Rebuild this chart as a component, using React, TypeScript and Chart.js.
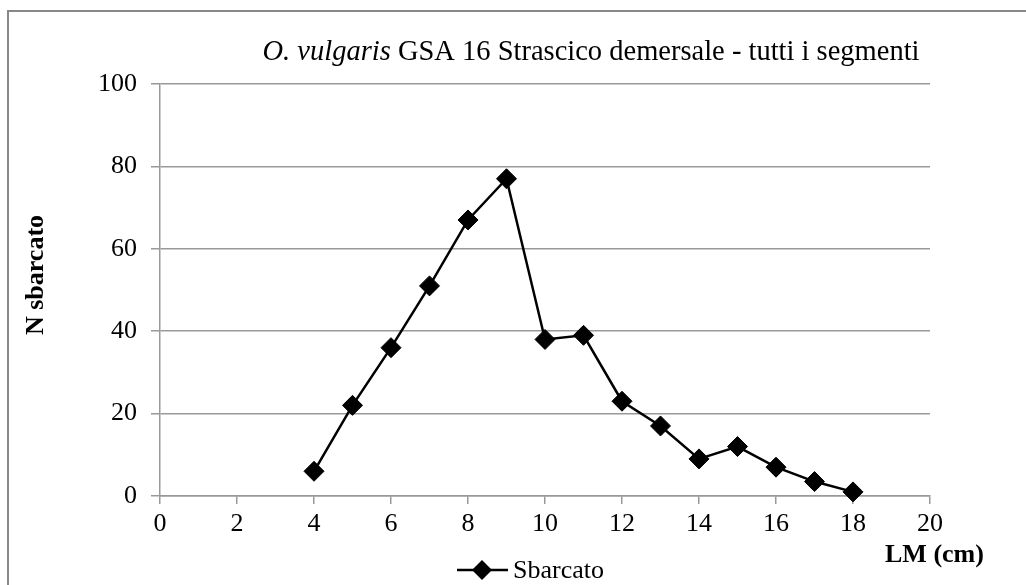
import React, { useEffect, useRef } from "react";
import { Chart, registerables } from "chart.js";

Chart.register(...registerables);

const lengths = [4, 5, 6, 7, 8, 9, 10, 11, 12, 13, 14, 15, 16, 17, 18];
const landed = [6, 22, 36, 51, 67, 77, 38, 39, 23, 17, 9, 12, 7, 3.5, 1];
const titleItalic = "O. vulgaris";
const titleRest = " GSA 16 Strascico demersale - tutti i segmenti";
const yTitle = "N sbarcato";
const xTitle = "LM (cm)";
const seriesName = "Sbarcato";

const FONT = "'Liberation Serif', 'Times New Roman', serif";

export default function App() {
  const ref = useRef<HTMLCanvasElement | null>(null);

  useEffect(() => {
    if (!ref.current) return;
    const decor = {
      id: "decor",
      afterDraw(chart: any) {
        const ctx = chart.ctx;
        ctx.save();
        ctx.fillStyle = "#000";
        // title
        ctx.textBaseline = "alphabetic";
        ctx.textAlign = "left";
        const ts = 28.5;
        ctx.font = `italic ${ts}px ${FONT}`;
        const w1 = ctx.measureText(titleItalic).width;
        ctx.font = `${ts}px ${FONT}`;
        const w2 = ctx.measureText(titleRest).width;
        const cx = 591;
        const x0 = cx - (w1 + w2) / 2;
        ctx.font = `italic ${ts}px ${FONT}`;
        ctx.fillText(titleItalic, x0, 60);
        ctx.font = `${ts}px ${FONT}`;
        ctx.fillText(titleRest, x0 + w1, 60);
        // y title
        ctx.save();
        ctx.translate(43, 275);
        ctx.rotate(-Math.PI / 2);
        ctx.textAlign = "center";
        ctx.textBaseline = "alphabetic";
        ctx.font = `bold 26px ${FONT}`;
        ctx.fillText(yTitle, 0, 0);
        ctx.restore();
        // x title
        ctx.textAlign = "left";
        ctx.font = `bold 26px ${FONT}`;
        ctx.fillText(xTitle, 885, 562);
        // legend
        const ly = 570;
        ctx.strokeStyle = "#000";
        ctx.lineWidth = 2.5;
        ctx.beginPath();
        ctx.moveTo(457, ly);
        ctx.lineTo(508, ly);
        ctx.stroke();
        ctx.beginPath();
        const r = 10;
        ctx.moveTo(482 - r, ly);
        ctx.lineTo(482, ly - r);
        ctx.lineTo(482 + r, ly);
        ctx.lineTo(482, ly + r);
        ctx.closePath();
        ctx.fill();
        ctx.font = `26px ${FONT}`;
        ctx.textBaseline = "middle";
        ctx.fillText(seriesName, 513, ly + 1);
        ctx.restore();
      },
    };

    const chart = new Chart(ref.current, {
      type: "line",
      data: {
        datasets: [
          {
            label: seriesName,
            data: lengths.map((x, i) => ({ x, y: landed[i] })),
            borderColor: "#000",
            backgroundColor: "#000",
            borderWidth: 2.5,
            pointStyle: "rectRot",
            pointRadius: 10,
            pointBorderWidth: 1,
            pointBackgroundColor: "#000",
            pointBorderColor: "#000",
            tension: 0,
            clip: false,
          } as any,
        ],
      },
      options: {
        responsive: false,
        animation: false,
        layout: { padding: { left: 0, top: 84, right: 96, bottom: 0 } },
        plugins: {
          legend: { display: false },
          title: { display: false },
          tooltip: { enabled: false },
        },
        scales: {
          x: {
            type: "linear",
            min: 0,
            max: 20,
            afterFit: (s: any) => {
              s.height = 89;
            },
            ticks: {
              stepSize: 2,
              color: "#000",
              font: { family: FONT, size: 26 },
              padding: 5,
              maxRotation: 0,
            },
            grid: {
              drawOnChartArea: false,
              drawTicks: true,
              tickLength: 8,
              color: "#999",
              lineWidth: 1.5,
            },
            border: { display: true, color: "#999", width: 1.5 },
          },
          y: {
            type: "linear",
            min: 0,
            max: 100,
            afterFit: (s: any) => {
              s.width = 160;
            },
            ticks: {
              stepSize: 20,
              color: "#000",
              font: { family: FONT, size: 26 },
              padding: 14,
            },
            grid: {
              drawOnChartArea: true,
              drawTicks: true,
              tickLength: 9,
              color: "#999",
              lineWidth: 1.5,
            },
            border: { display: true, color: "#999", width: 1.5 },
          },
        },
      },
      plugins: [decor],
    } as any);
    return () => chart.destroy();
  }, []);

  return (
    <div
      style={{
        position: "fixed",
        left: 0,
        top: 0,
        width: 1026,
        height: 585,
        overflow: "hidden",
        background: "#fff",
      }}
    >
      <div
        style={{
          position: "absolute",
          left: 7,
          top: 10,
          width: 1100,
          height: 700,
          border: "2px solid #888",
          boxSizing: "border-box",
        }}
      />
      <canvas
        ref={ref}
        width={1026}
        height={585}
        style={{ position: "absolute", left: 0, top: 0, width: 1026, height: 585 }}
      />
    </div>
  );
}
